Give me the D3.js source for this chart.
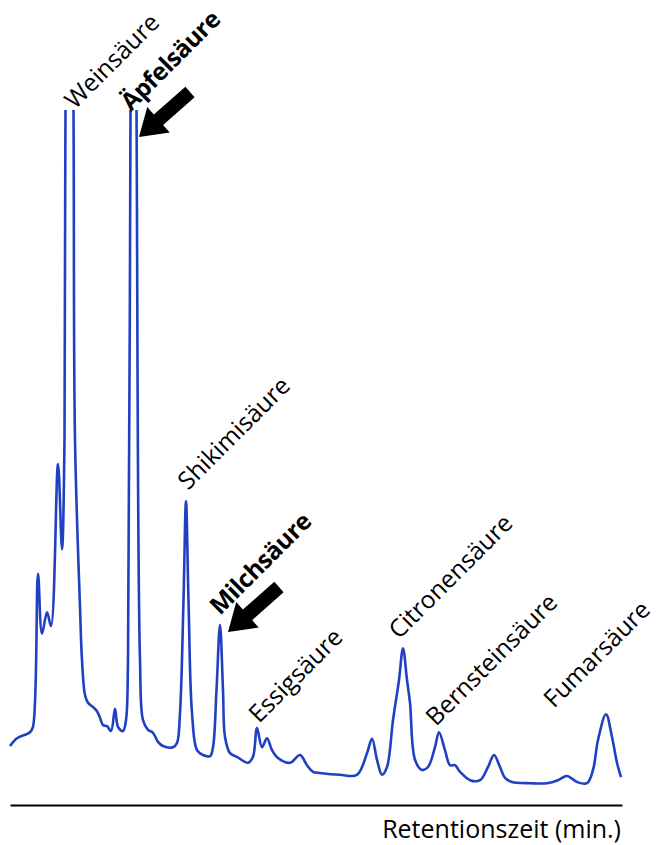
<!DOCTYPE html>
<html>
<head>
<meta charset="utf-8">
<script src="https://cdn.jsdelivr.net/npm/d3@7"></script>
<style>
  body { margin: 0; background: #fff; }
  svg { display: block; }
</style>
</head>
<body>
<div class="canvas"></div>
<script>
// chromatogram: retention time (min) and detector signal (a.u.)
const times = [0, 0.35, 1.0, 1.15, 1.4, 1.6, 1.85, 2.05, 2.4, 2.6,
  2.725, 2.775, 2.975, 3.175, 3.25, 3.5, 3.6, 3.75, 3.9, 4.15,
  4.35, 4.5, 4.65, 4.85, 5.05, 5.25, 5.4, 5.65, 5.8, 5.9,
  6.025, 6.175, 6.325, 6.5, 6.65, 6.9, 7.15, 7.4, 7.65, 8.15,
  8.35, 8.5, 8.675, 8.8, 8.925, 9.1, 9.35, 9.65, 10, 10.15,
  10.325, 10.5, 10.65, 10.75, 11, 11.35, 11.9, 12.15, 12.35, 12.6,
  12.85, 13.1, 13.4, 14, 14.5, 14.85, 15.15, 15.5, 16.5, 17.35,
  17.85, 18.1, 18.35, 18.6, 18.85, 19.15, 19.45, 19.65, 19.85, 20,
  20.25, 20.6, 20.9, 21.25, 21.45, 21.75, 22, 22.25, 22.5, 23,
  23.5, 23.9, 24.2, 24.5, 24.75, 25.1, 26, 26.85, 27.4, 27.85,
  28.35, 28.85, 29.15, 29.4, 29.8, 30.1, 30.35, 30.55];

const signal = [6.5, 7.8, 8.8, 9.7, 35.2, 25.2, 28.8, 26.5, 53.5, 39.3,
  57.5, 112.5, 197.5, 112.5, 57.5, 29.7, 20.8, 15, 13.7, 13,
  12.3, 11.2, 10, 9.8, 9, 12.7, 9.7, 9, 10.8, 20.8,
  112.5, 197.5, 112.5, 20.8, 10.8, 9.2, 8.7, 7.2, 6.5, 6.3,
  7, 12, 30.8, 47.3, 30.8, 12, 5.8, 5, 4.8, 6.3,
  15.8, 26.7, 15.8, 8, 5.3, 4.7, 3.7, 4.7, 9.5, 6.3,
  7.8, 5.8, 4.5, 3.7, 5, 3.3, 2.2, 2, 1.7, 1.7,
  5.3, 7.7, 4.2, 1.7, 3, 10.8, 17.5, 22.8, 17.5, 13.7,
  4.2, 2.5, 3, 6.3, 8.8, 5.8, 3.3, 3.3, 2.2, 0.8,
  0.8, 3, 5, 3, 1.2, 0.5, 0.3, 0.3, 0.8, 1.5,
  0.5, 0.3, 2.5, 7.5, 11.8, 8, 3.7, 1.3];

// peak names
const peakNames = ['Weinsäure', 'Äpfelsäure', 'Shikimisäure', 'Milchsäure',
  'Essigsäure', 'Citronensäure', 'Bernsteinsäure', 'Fumarsäure'];
const highlighted = ['Äpfelsäure', 'Milchsäure'];
const xLabel = 'Retentionszeit (min.)';

// layout
const width = 657, height = 845;
const labelAnchors = [[75, 110], [131, 112], [188, 491], [220, 616],
  [259, 724], [399, 640], [436, 727], [554, 709]]; // baseline start of each rotated label
const arrowTips = { 'Äpfelsäure': [139, 137], 'Milchsäure': [228, 632] };

const svg = d3.select('.canvas')
  .append('svg')
  .attr('width', width)
  .attr('height', height);

const x = d3.scaleLinear()
  .domain([0, 30.6])
  .range([10, 622]);

const y = d3.scaleLinear()
  .domain([0, 100])
  .range([785, 185]);

// the two big peaks run off the top of the picture
svg.append('clipPath')
  .attr('id', 'plot-clip')
  .append('rect')
  .attr('x', 0).attr('y', 110)
  .attr('width', width).attr('height', height - 110);

const data = times.map((t, i) => ({ t: t, s: signal[i] }));

const line = d3.line()
  .x(d => x(d.t))
  .y(d => y(d.s))
  .curve(d3.curveCatmullRom.alpha(0.5));

svg.append('path')
  .datum(data)
  .attr('clip-path', 'url(#plot-clip)')
  .attr('d', line)
  .attr('fill', 'none')
  .attr('stroke', '#1f40c2')
  .attr('stroke-width', 2.6)
  .attr('stroke-linejoin', 'round');

// bare time axis: just the line, no ticks
const xAxis = d3.axisBottom(x).tickValues([]).tickSizeOuter(0);
const xAxisGroup = svg.append('g')
  .attr('transform', 'translate(0, 805)')
  .call(xAxis);
xAxisGroup.select('.domain')
  .attr('stroke', '#000')
  .attr('stroke-width', 2);

svg.append('text')
  .attr('x', 621)
  .attr('y', 838)
  .attr('text-anchor', 'end')
  .attr('font-family', 'Open Sans, sans-serif')
  .attr('font-size', 25)
  .attr('fill', '#000')
  .text(xLabel);

// peak labels
svg.selectAll('.peak-label')
  .data(peakNames)
  .enter()
  .append('text')
  .attr('class', 'peak-label')
  .attr('transform', (d, i) => `translate(${labelAnchors[i][0]}, ${labelAnchors[i][1]}) rotate(-45)`)
  .attr('font-family', 'Open Sans, sans-serif')
  .attr('font-size', 24.5)
  .attr('font-weight', d => highlighted.includes(d) ? 'bold' : 'normal')
  .attr('letter-spacing', d => highlighted.includes(d) ? -0.4 : 0)
  .attr('fill', '#000')
  .text(d => d);

// arrows for the highlighted acids
const arrowLen = 68;
const arrowShape = [[0, -7], [arrowLen - 26, -7], [arrowLen - 26, -17], [arrowLen, 0],
  [arrowLen - 26, 17], [arrowLen - 26, 7], [0, 7]];
const angle = Math.atan2(45, -51) * 180 / Math.PI;

svg.selectAll('.arrow')
  .data(highlighted)
  .enter()
  .append('path')
  .attr('class', 'arrow')
  .attr('d', d3.line()(arrowShape) + 'Z')
  .attr('transform', d => {
    const tip = arrowTips[d];
    return `translate(${tip[0]}, ${tip[1]}) rotate(${angle}) translate(${-arrowLen}, 0)`;
  })
  .attr('fill', '#000');
</script>
</body>
</html>
